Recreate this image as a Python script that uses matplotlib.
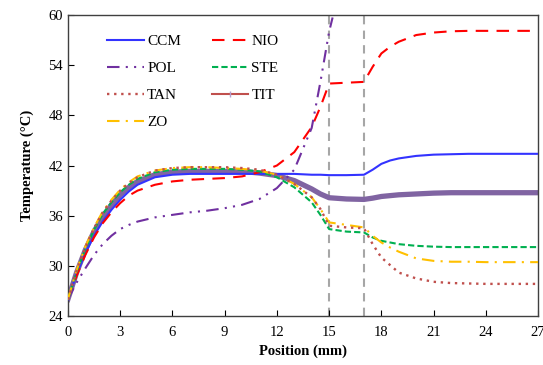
import matplotlib
matplotlib.use("Agg")
import matplotlib.pyplot as plt
from matplotlib.lines import Line2D

plt.rcParams['font.family'] = ['Liberation Serif', 'DejaVu Serif']

x = [0, 0.5, 1, 1.5, 2, 2.5, 3, 3.5, 4, 5, 6, 7, 8, 9, 10, 11, 12, 13, 14, 14.5,
     15, 16, 17, 17.5, 18, 18.5, 19, 20, 21, 22, 23, 24, 25, 26, 27]

ccm = [26.0, 29.0, 31.5, 33.6, 35.3, 36.7, 37.9, 38.9, 39.7, 40.6, 40.9, 41.0, 41.0, 41.0, 41.0, 41.0, 41.0, 41.0, 40.9, 40.9,
       40.85, 40.85, 40.9, 41.5, 42.2, 42.6, 42.85, 43.15, 43.3, 43.35, 43.4, 43.4, 43.4, 43.4, 43.4]
nio = [26.0, 28.8, 31.3, 33.4, 35.1, 36.4, 37.5, 38.4, 39.0, 39.7, 40.1, 40.3, 40.4, 40.5, 40.7, 41.2, 42.0, 43.6, 46.6, 49.0,
       51.8, 51.9, 52.0, 53.8, 55.4, 56.2, 56.8, 57.6, 57.9, 58.05, 58.1, 58.1, 58.1, 58.1, 58.1]
pol_x = [0, 0.5, 1, 1.5, 2, 2.5, 3, 3.5, 4, 5, 6, 7, 8, 9, 10, 11, 12, 13, 14, 14.5,
         14.75, 15, 15.2]
pol = [26.0, 28.0, 29.7, 31.3, 32.6, 33.6, 34.4, 34.9, 35.3, 35.8, 36.1, 36.4, 36.6, 36.9, 37.3, 38.0, 39.3, 41.5, 46.5, 52.0,
       55.0, 58.0, 59.7]
ste = [26.0, 29.3, 32.0, 34.3, 36.2, 37.6, 38.8, 39.7, 40.4, 41.2, 41.5, 41.6, 41.6, 41.6, 41.5, 41.3, 40.6, 39.4, 37.6, 36.1,
       34.4, 34.1, 34.0, 33.4, 33.0, 32.8, 32.6, 32.4, 32.3, 32.25, 32.25, 32.25, 32.25, 32.25, 32.25]
tan = [26.0, 29.4, 32.2, 34.5, 36.4, 37.8, 39.0, 39.9, 40.6, 41.4, 41.7, 41.8, 41.8, 41.8, 41.7, 41.5, 40.9, 39.8, 38.2, 36.8,
       34.8, 34.6, 34.5, 32.6, 31.0, 30.1, 29.2, 28.5, 28.1, 27.95, 27.9, 27.85, 27.85, 27.85, 27.85]
tit = [26.0, 29.2, 31.9, 34.1, 35.9, 37.3, 38.5, 39.4, 40.1, 40.9, 41.2, 41.3, 41.3, 41.3, 41.3, 41.1, 40.8, 40.2, 39.2, 38.6,
       38.15, 38.0, 37.95, 38.1, 38.3, 38.4, 38.5, 38.6, 38.7, 38.75, 38.75, 38.75, 38.75, 38.75, 38.75]
zo = [26.0, 29.5, 32.3, 34.6, 36.5, 37.9, 39.1, 40.0, 40.7, 41.4, 41.7, 41.8, 41.8, 41.7, 41.6, 41.4, 40.9, 39.8, 38.2, 36.8,
      35.2, 34.9, 34.6, 33.6, 32.8, 32.2, 31.7, 30.9, 30.6, 30.5, 30.5, 30.45, 30.45, 30.45, 30.45]

xticks = [0, 3, 6, 9, 12, 15, 18, 21, 24, 27]
yticks = [24, 30, 36, 42, 48, 54, 60]
vlines = [15, 17]

fig = plt.figure(figsize=(5.43, 3.65), dpi=100)
ax = fig.add_axes([0.125, 0.134, 0.866, 0.825])

for v in vlines:
    ax.axvline(v, color='#A6A6A6', ls=(0, (4, 3)), lw=1.5, zorder=1)

l_tit, = ax.plot(x, tit, color='#8064A2', lw=3.8, zorder=2)
l_ccm, = ax.plot(x, ccm, color='#3333FF', lw=1.5, zorder=3)
l_nio, = ax.plot(x, nio, color='#FF0000', lw=1.5, ls=(0, (6, 4)), zorder=3)
l_pol, = ax.plot(pol_x, pol, color='#7030A0', lw=1.5, ls=(0, (6, 3, 1, 3, 1, 3)), zorder=3)
l_ste, = ax.plot(x, ste, color='#00B050', lw=1.5, ls=(0, (3, 1.5)), zorder=3)
l_tan, = ax.plot(x, tan, color='#C0504D', lw=1.7, ls=(0, (1, 2)), zorder=4)
l_zo, = ax.plot(x, zo, color='#FFC000', lw=1.5, ls=(0, (6, 3, 1, 3)), zorder=3)

h_tit = Line2D([0, 1, 2], [0, 0, 0], color='#C0504D', lw=1.5, marker='|', markersize=5,
               markeredgecolor='#B4A0D0', markevery=[1])

handles = [l_ccm, l_pol, l_tan, l_zo, l_nio, l_ste, h_tit]
labels = ['CCM', 'POL', 'TAN', 'ZO', 'NIO', 'STE', 'TIT']
leg = ax.legend(handles, labels, ncol=2, frameon=False, loc='upper left',
                bbox_to_anchor=(0.055, 0.98), fontsize=11, handlelength=2.4,
                handletextpad=0.2, columnspacing=2.0, labelspacing=0.86)

ax.set_xlim(0, 27)
ax.set_ylim(24, 60)
ax.set_xticks(xticks)
ax.set_yticks(yticks)
ax.tick_params(direction='in', length=4, labelsize=10.5, colors='black')
ax.tick_params(axis='x', pad=7)
for s in ax.spines.values():
    s.set_color('#404040')
    s.set_linewidth(1.0)

ax.set_xlabel('Position (mm)', fontsize=10.5, fontweight='bold', labelpad=4)
ax.set_ylabel('Temperature (\u00b0C)', fontsize=10.5, fontweight='bold', labelpad=10)

fig.savefig('out.png', dpi=100)
